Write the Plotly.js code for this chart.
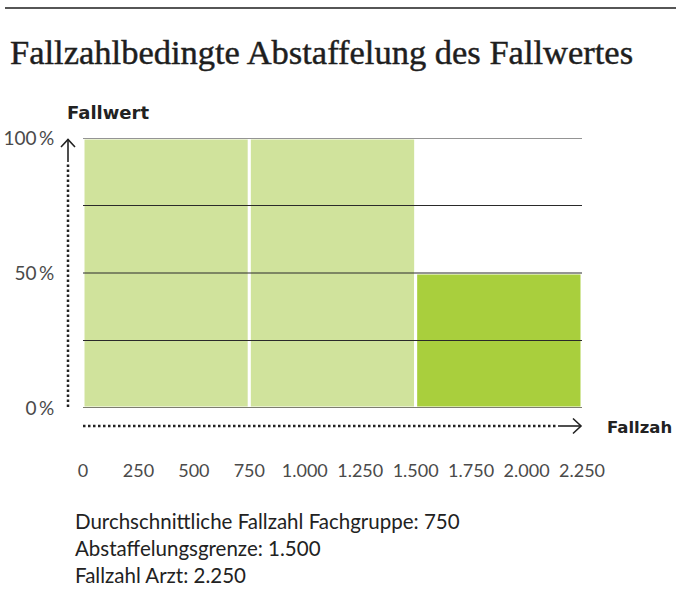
<!DOCTYPE html>
<html>
<head>
<meta charset="utf-8">
<script src="https://cdn.plot.ly/plotly-3.0.1.min.js"></script>
<style>
html,body{margin:0;padding:0;background:#fff;}
#chart{width:676px;height:590px;}
#chart .gtitle{stroke:#1e1e1e;stroke-width:0.45px;}
</style>
</head>
<body>
<div id="chart"></div>
<script>
// ---- data ----
const segmentStart = [0, 750, 1500];
const segmentEnd = [750, 1500, 2250];
const fallwertPct = [100, 100, 50];
const segmentColors = ['#d0e39c', '#d0e39c', '#a9cf3d'];
const xTickVals = [0, 250, 500, 750, 1000, 1250, 1500, 1750, 2000, 2250];
const yTickVals = [0, 50, 100];
const yTickLabels = ['0\u2009%', '50\u2009%', '100\u2009%'];
const gridVals = [25, 50, 75, 100];
const xRange = [0, 2250];
const yRange = [0, 100];
const xAxisLabel = 'Fallzah';
const yAxisLabel = 'Fallwert';
const notes = [
  'Durchschnittliche Fallzahl Fachgruppe: 750',
  'Abstaffelungsgrenze: 1.500',
  'Fallzahl Arzt: 2.250'
];

// ---- layout helpers (pixel -> paper) ----
const W = 676, H = 590;
const M = {l: 83, r: 94, t: 138, b: 182};
const PL = M.l, PR = W - M.r, PT = M.t, PB = H - M.b;
const px = x => (x - PL) / (PR - PL);
const py = y => (PB - y) / (PB - PT);

const barTrace = {
  type: 'bar',
  x: segmentStart.map((s, i) => (s + segmentEnd[i]) / 2),
  width: segmentStart.map((s, i) => segmentEnd[i] - s),
  y: fallwertPct,
  marker: {color: segmentColors, line: {color: '#ffffff', width: 3}},
  hoverinfo: 'skip',
  showlegend: false
};

const gx = [], gy = [];
gridVals.forEach(v => { gx.push(xRange[0], xRange[1], null); gy.push(v, v, null); });
const gridTrace = {
  type: 'scatter', mode: 'lines', x: gx, y: gy,
  line: {color: '#2a2a2a', width: 1},
  cliponaxis: false, hoverinfo: 'skip', showlegend: false
};
const baseTrace = {
  type: 'scatter', mode: 'lines', x: [xRange[0], xRange[1]], y: [yRange[0], yRange[0]],
  line: {color: '#7d7d70', width: 2},
  cliponaxis: false, hoverinfo: 'skip', showlegend: false
};

const sansFont = 'Lato, "Open Sans", sans-serif';
const boldFont = '"DejaVu Sans", Lato, sans-serif';

const shapes = [
  // top rule
  {type: 'line', xref: 'paper', yref: 'paper', x0: px(5), x1: px(676), y0: py(8), y1: py(8), line: {color: '#1e1e1e', width: 1.5}},
  // dotted y axis
  {type: 'line', xref: 'paper', yref: 'paper', x0: px(68), x1: px(68), y0: py(407), y1: py(164), line: {color: '#222', width: 2.5, dash: '2.5px,2.5px'}},
  {type: 'line', xref: 'paper', yref: 'paper', x0: px(68), x1: px(68), y0: py(162), y1: py(139), line: {color: '#222', width: 1.6}},
  {type: 'path', xref: 'paper', yref: 'paper',
   path: `M${px(61)},${py(147)} L${px(68)},${py(139.5)} L${px(75)},${py(147)}`, line: {color: '#222', width: 1.6}},
  // dotted x axis
  {type: 'line', xref: 'paper', yref: 'paper', x0: px(83), x1: px(558), y0: py(426), y1: py(426), line: {color: '#222', width: 2.5, dash: '2.5px,2.5px'}},
  {type: 'line', xref: 'paper', yref: 'paper', x0: px(558), x1: px(581), y0: py(426), y1: py(426), line: {color: '#222', width: 1.6}},
  {type: 'path', xref: 'paper', yref: 'paper',
   path: `M${px(573)},${py(418.5)} L${px(581)},${py(426)} L${px(573)},${py(433.5)}`, line: {color: '#222', width: 1.6}}
];

const annotations = [
  {xref: 'paper', yref: 'paper', x: px(65), y: py(112), xanchor: 'left', yanchor: 'middle', showarrow: false,
   text: '<b>' + yAxisLabel + '</b>', font: {family: boldFont, size: 18, color: '#222'}},
  {xref: 'paper', yref: 'paper', x: px(605), y: py(427), xanchor: 'left', yanchor: 'middle', showarrow: false,
   text: '<b>' + xAxisLabel + '</b>', font: {family: boldFont, size: 16.5, color: '#222'}}
];
notes.forEach((t, i) => annotations.push({
  xref: 'paper', yref: 'paper', x: px(73), y: py(521 + i * 27), xanchor: 'left', yanchor: 'middle', showarrow: false,
  text: t, font: {family: sansFont, size: 20.5, color: '#222'}
}));

const layout = {
  width: W, height: H,
  margin: M,
  paper_bgcolor: '#ffffff', plot_bgcolor: '#ffffff',
  separators: ',.',
  title: {
    text: 'Fallzahlbedingte Abstaffelung des Fallwertes',
    font: {family: '"Liberation Serif", "DejaVu Serif", serif', size: 34.5, color: '#1e1e1e'},
    xref: 'container', yref: 'container', x: 10 / W, xanchor: 'left', y: 1 - 52 / H, yanchor: 'middle'
  },
  xaxis: {
    range: xRange, tickvals: xTickVals, tickformat: ',d',
    showgrid: false, zeroline: false, showline: false,
    ticks: 'outside', ticklen: 46, tickcolor: 'rgba(0,0,0,0)',
    tickfont: {family: sansFont, size: 18, color: '#4a4a4a'},
    fixedrange: true
  },
  yaxis: {
    range: yRange, tickvals: yTickVals, ticktext: yTickLabels,
    showgrid: false, zeroline: false, showline: false,
    ticks: 'outside', ticklen: 24, tickcolor: 'rgba(0,0,0,0)',
    tickfont: {family: sansFont, size: 19, color: '#4a4a4a'},
    fixedrange: true
  },
  bargap: 0,
  shapes: shapes,
  annotations: annotations
};

Plotly.newPlot('chart', [barTrace, gridTrace, baseTrace], layout, {displayModeBar: false, staticPlot: true});
</script>
</body>
</html>
